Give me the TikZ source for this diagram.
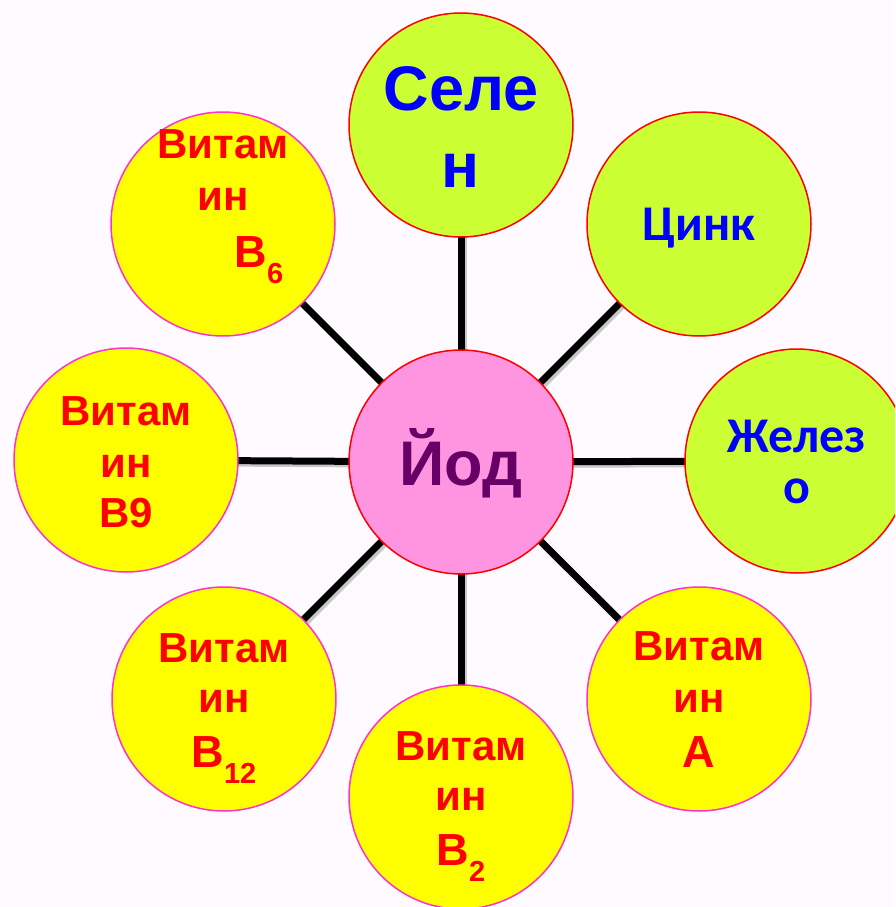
\documentclass[tikz,border=0pt]{standalone}
\usepackage{fontspec}
\setmainfont{Liberation Sans}
\newfontfamily\calib{Carlito}
\usetikzlibrary{calc}
\definecolor{bgc}{HTML}{FFFAFF}
\definecolor{greenf}{HTML}{CCFF33}
\definecolor{pinkf}{HTML}{FF94E0}
\definecolor{yellowf}{HTML}{FFFF00}
\definecolor{magline}{HTML}{FF33CC}
\definecolor{iodtext}{HTML}{660066}
\definecolor{bluet}{HTML}{0000FF}
\tikzset{
  disc/.style={circle, inner sep=0pt, minimum size=224pt, line width=1.5pt},
  mineral/.style={disc, draw=red, fill=greenf},
  vitamin/.style={disc, draw=magline, fill=yellowf},
  centre/.style={disc, draw=red, fill=pinkf},
  link/.style={line width=7pt, black},
  linkshadow/.style={line width=7pt, black!22},
  vt/.style={anchor=base, inner sep=0pt, text=red, font=\bfseries\fontsize{42}{48}\selectfont},
  vbig/.style={vt, font=\bfseries\fontsize{45}{50}\selectfont},
  mt/.style={anchor=base, inner sep=0pt, text=bluet, font=\bfseries\fontsize{63}{70}\selectfont},
  ct/.style={anchor=base, inner sep=0pt, text=bluet, font=\calib\bfseries\fontsize{50}{56}\selectfont},
}
\newcommand{\subdig}[1]{\raisebox{-16pt}{\fontsize{29}{29}\selectfont #1}}
\begin{document}
\begin{tikzpicture}[x=1pt,y=-1pt]
\fill[bgc] (0,0) rectangle (895,907);
\clip (0,0) rectangle (895,907);
\useasboundingbox (0,0) rectangle (895,907);
% centres
\coordinate (pI) at (461,462);
\coordinate (pSe) at (461,125);
\coordinate (pZn) at (699,224);
\coordinate (pFe) at (797,461);
\coordinate (pA) at (699,699);
\coordinate (pB2) at (461,797);
\coordinate (pB12) at (224,699);
\coordinate (pB9) at (126,460);
\coordinate (pB6) at (223,224);
% connectors
\foreach \t in {pSe,pZn,pFe,pA,pB2,pB12,pB9,pB6}{
  \draw[linkshadow] ($(pI)+(2.5,2.5)$) -- ($(\t)+(2.5,2.5)$);
}
\foreach \t in {pSe,pZn,pFe,pA,pB2,pB12,pB9,pB6}{
  \draw[link] (pI) -- (\t);
}
% circles
\node[centre] (iod) at (pI) {};
\node[mineral] (se) at (pSe) {};
\node[mineral] (zn) at (pZn) {};
\node[mineral] (fe) at (pFe) {};
\node[vitamin] (va) at (pA) {};
\node[vitamin] (vb2) at (pB2) {};
\node[vitamin] (vb12) at (pB12) {};
\node[vitamin] (vb9) at (pB9) {};
\node[vitamin] (vb6) at (pB6) {};
% texts
\node[mt, text=iodtext] (tiod) at ($(iod.center)+(0,23)$) {Йод};
\node[mt] (tse1) at ($(se.center)+(0,-15)$) {Селе};
\node[mt] (tse2) at ($(se.center)+(0,62)$) {н};
\node[ct] (tzn) at ($(zn.center)+(0,16)$) {Цинк};
\node[ct] (tfe1) at ($(fe.center)+(0,-9)$) {Желез};
\node[ct] (tfe2) at ($(fe.center)+(0,42)$) {о};
% vitamin A
\node[vt] (ta1) at ($(va.center)+(0,-39)$) {Витам};
\node[vt] (ta2) at ($(va.center)+(0,13)$) {ин};
\node[vbig] (ta3) at ($(va.center)+(0,68)$) {А};
% B2
\node[vt] (tb21) at ($(vb2.center)+(0,-37)$) {Витам};
\node[vt] (tb22) at ($(vb2.center)+(0,13)$) {ин};
\node[vbig] (tb23) at ($(vb2.center)+(0,68)$) {В\subdig{2}};
% B12
\node[vt] (tb121) at ($(vb12.center)+(0,-37)$) {Витам};
\node[vt] (tb122) at ($(vb12.center)+(0,13)$) {ин};
\node[vbig] (tb123) at ($(vb12.center)+(0,68)$) {В\subdig{12}};
% B9
\node[vt] (tb91) at ($(vb9.center)+(0,-35)$) {Витам};
\node[vt] (tb92) at ($(vb9.center)+(0,17)$) {ин};
\node[vt] (tb93) at ($(vb9.center)+(0,67)$) {В9};
% B6
\node[vt] (tb61) at ($(vb6.center)+(0,-66)$) {Витам};
\node[vt] (tb62) at ($(vb6.center)+(0,-14)$) {ин};
\node[vbig] (tb63) at ($(vb6.center)+(36,43)$) {В\subdig{6}};
\end{tikzpicture}
\end{document}
